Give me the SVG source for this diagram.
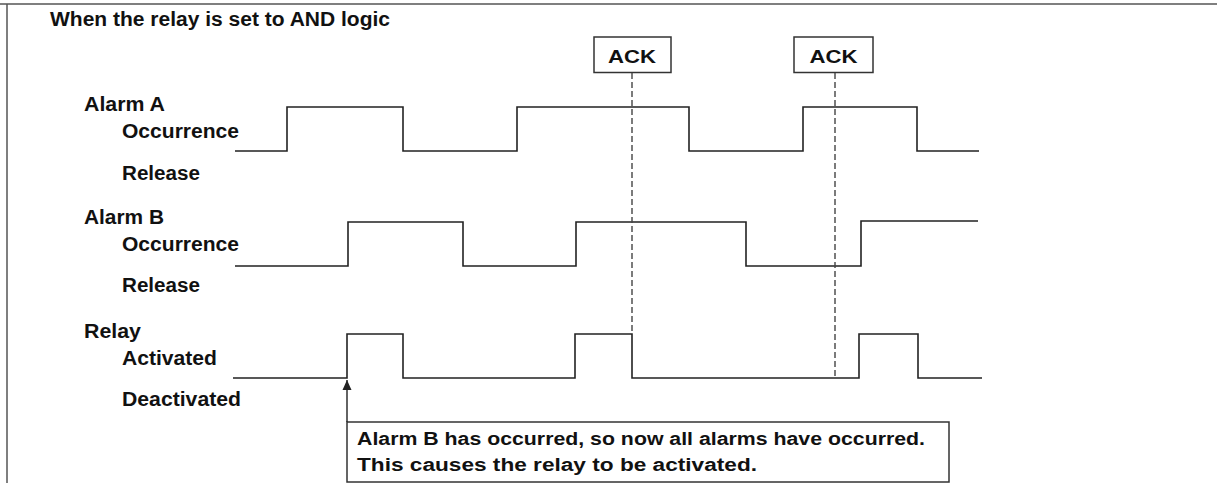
<svg xmlns="http://www.w3.org/2000/svg" width="1217" height="483" viewBox="0 0 1217 483">
<style>
text{font-family:"Liberation Sans",Arial,sans-serif;font-weight:bold;fill:#111}
.lbl{font-size:19.5px}
.note{font-size:17.5px}
.ack{font-size:18px}
.wave{fill:none;stroke:#222;stroke-width:1.6}
.box{fill:#fff;stroke:#333;stroke-width:1.5}
.dash{stroke:#444;stroke-width:1.4;stroke-dasharray:6 3;fill:none}
.frame{stroke:#555;stroke-width:1.5;fill:none}
.arrow{stroke:#222;stroke-width:1.4;fill:none}
</style>
<defs>
<marker id="ah" markerWidth="10" markerHeight="10" refX="10" refY="5" orient="auto" markerUnits="userSpaceOnUse" viewBox="0 0 10 10">
<polygon points="0,0.5 10,5 0,9.5" fill="#222"/>
</marker>
</defs>
<g id="frame">
<line class="frame" x1="0" y1="4" x2="1217" y2="4"/>
<line class="frame" x1="7" y1="4" x2="7" y2="483"/>
</g>
<g id="title"><text class="lbl" x="50" y="25.7" textLength="340" lengthAdjust="spacingAndGlyphs">When the relay is set to AND logic</text></g>
<g id="alarmA">
<text class="lbl" x="84" y="111" textLength="81" lengthAdjust="spacingAndGlyphs">Alarm A</text>
<text class="lbl" x="122" y="138.3" textLength="117" lengthAdjust="spacingAndGlyphs">Occurrence</text>
<text class="lbl" x="122" y="180" textLength="78" lengthAdjust="spacingAndGlyphs">Release</text>
<path class="wave" d="M235,151 H287 V107 H403 V151 H517 V107 H689 V151 H803 V107 H917 V151 H979"/>
</g>
<g id="alarmB">
<text class="lbl" x="84" y="224.3" textLength="80" lengthAdjust="spacingAndGlyphs">Alarm B</text>
<text class="lbl" x="122" y="251" textLength="117" lengthAdjust="spacingAndGlyphs">Occurrence</text>
<text class="lbl" x="122" y="292.3" textLength="78" lengthAdjust="spacingAndGlyphs">Release</text>
<path class="wave" d="M235,266 H348 V222 H463 V266 H576 V222 H746 V266 H861 V221 H978"/>
</g>
<g id="relay">
<text class="lbl" x="84" y="337.7" textLength="57" lengthAdjust="spacingAndGlyphs">Relay</text>
<text class="lbl" x="122" y="365" textLength="95" lengthAdjust="spacingAndGlyphs">Activated</text>
<text class="lbl" x="122" y="406" textLength="119" lengthAdjust="spacingAndGlyphs">Deactivated</text>
<path class="wave" d="M233,378 H347 V334 H403 V378 H575 V334 H632 V378 H859 V334 H918 V378 H982"/>
</g>
<g id="ack1">
<rect class="box" x="594" y="37" width="77" height="35.5"/>
<text class="ack" x="632" y="62.7" text-anchor="middle" textLength="48" lengthAdjust="spacingAndGlyphs">ACK</text>
</g>
<g id="ack2">
<rect class="box" x="794" y="37" width="79" height="35.5"/>
<text class="ack" x="833.5" y="62.7" text-anchor="middle" textLength="48" lengthAdjust="spacingAndGlyphs">ACK</text>
</g>
<g id="note">
<rect class="box" x="347" y="422" width="602" height="60"/>
<text class="note" x="357" y="445" textLength="568" lengthAdjust="spacingAndGlyphs">Alarm B has occurred, so now all alarms have occurred.</text>
<text class="note" x="357" y="470.7" textLength="400" lengthAdjust="spacingAndGlyphs">This causes the relay to be activated.</text>
</g>
<g id="connectors">
<line class="dash" x1="632" y1="73" x2="632" y2="334"/>
<line class="dash" x1="835" y1="73" x2="835" y2="378"/>
<line class="arrow" x1="347" y1="422" x2="347" y2="380" marker-end="url(#ah)"/>
</g>
</svg>
